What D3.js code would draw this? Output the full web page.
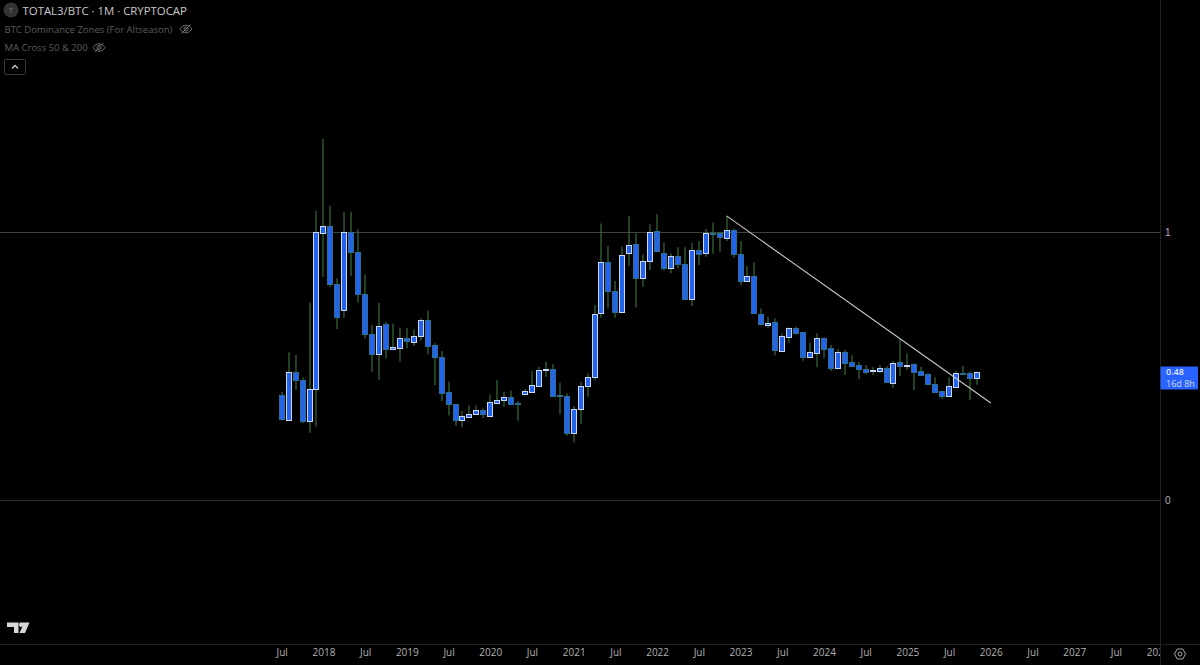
<!DOCTYPE html>
<html>
<head>
<meta charset="utf-8">
<script src="https://cdn.jsdelivr.net/npm/d3@7"></script>
<style>
html,body{margin:0;padding:0;background:#000;overflow:hidden}
svg{display:block;font-family:"Open Sans",Roboto,sans-serif}
</style>
</head>
<body>
<svg id="chart" width="1200" height="665"></svg>
<script>
// Monthly candles, Jul 2017 .. Nov 2025
const opens=[.392,.299,.476,.448,.296,.413,.997,1.023,.805,.708,.999,.925,.769,.619,.545,.657,.565,.567,.603,.591,.611,.670,.577,.532,.402,.357,.299,.310,.321,.335,.315,.363,.372,.383,.361,.395,.404,.426,.486,.488,.391,.388,.250,.338,.426,.459,.697,.887,.779,.703,.923,.954,.828,.891,1.003,.923,.866,.912,.879,.750,.934,.923,.997,.995,.979,1.006,.917,.816,.835,.694,.653,.663,.557,.609,.643,.626,.532,.550,.606,.568,.493,.551,.514,.504,.488,.481,.481,.491,.438,.514,.501,.506,.480,.470,.433,.406,.389,.423,.475,.473,.456];
const highs=[.404,.551,.541,.458,.736,1.079,1.347,1.098,.827,1.076,1.076,1.010,.842,.653,.736,.665,.659,.643,.641,.637,.678,.706,.585,.556,.441,.357,.332,.354,.354,.341,.394,.448,.404,.409,.369,.414,.481,.497,.515,.507,.438,.397,.351,.441,.473,.728,1.032,.948,.817,.945,1.060,.995,.917,1.029,1.066,.962,.920,.943,.943,.960,.966,1.011,1.035,1.001,1.060,1.014,.966,.873,.887,.715,.684,.678,.622,.644,.647,.628,.587,.622,.607,.578,.563,.560,.540,.515,.504,.496,.504,.500,.520,.600,.547,.510,.497,.473,.458,.408,.458,.482,.500,.479,.479];
const lows=[.296,.299,.410,.286,.251,.274,.833,.796,.638,.680,.836,.736,.603,.479,.448,.527,.560,.516,.566,.575,.594,.544,.429,.369,.315,.277,.271,.308,.318,.306,.309,.363,.348,.359,.296,.394,.404,.426,.460,.388,.320,.240,.215,.284,.385,.448,.680,.715,.680,.700,.873,.718,.796,.858,.926,.856,.846,.864,.746,.724,.877,.908,.920,.926,.966,.904,.800,.815,.697,.650,.643,.540,.557,.587,.618,.520,.532,.495,.529,.481,.488,.466,.495,.451,.470,.466,.473,.439,.417,.464,.485,.410,.466,.433,.402,.377,.389,.417,.469,.373,.430];
const closes=[.301,.476,.448,.296,.413,1.000,1.023,.805,.682,.999,.926,.769,.619,.545,.648,.565,.572,.606,.593,.611,.670,.576,.532,.400,.359,.300,.313,.322,.335,.320,.365,.374,.383,.359,.357,.406,.428,.485,.489,.389,.387,.251,.338,.424,.459,.694,.887,.779,.703,.914,.951,.828,.892,.999,.929,.864,.912,.879,.749,.934,.919,.995,.994,.980,1.006,.917,.817,.835,.697,.657,.660,.560,.611,.641,.624,.532,.551,.606,.565,.494,.551,.512,.501,.488,.478,.484,.491,.439,.510,.501,.504,.479,.468,.433,.404,.389,.424,.473,.473,.456,.476];
const tickMonths=[0,6,12,18,24,30,36,42,48,54,60,66,72,78,84,90,96,102,108,114,120,126];
const tickLabels=["Jul","2018","Jul","2019","Jul","2020","Jul","2021","Jul","2022","Jul","2023","Jul","2024","Jul","2025","Jul","2026","Jul","2027","Jul","2028"];
const priceTicks=[0,1];
const trendMonths=[64,102];
const trendValues=[1.06,.362];
const legendRows=["BTC Dominance Zones (For Altseason)","MA Cross 50 & 200"];
const titleText="TOTAL3/BTC · 1M · CRYPTOCAP";
const lastLabel="0.48";
const countdownLabel="16d 8h";

const W=1200,H=665,plotR=1160,plotB=644;
const x=d3.scaleLinear().domain([0,100]).range([281.7,976.9]);
const y=d3.scaleLinear().domain([0,1]).range([500,232]);
const svg=d3.select("#chart");
svg.append("defs").append("clipPath").attr("id","plot").append("rect").attr("width",plotR).attr("height",plotB);
svg.append("defs").append("clipPath").attr("id","timeclip").append("rect").attr("width",plotR).attr("height",H);
svg.append("rect").attr("width",W).attr("height",H).attr("fill","#000");

// grid lines
const plot=svg.append("g").attr("clip-path","url(#plot)");
plot.selectAll("line.grid").data(priceTicks).join("line")
 .attr("x1",0).attr("x2",plotR).attr("y1",d=>Math.round(y(d))+.5).attr("y2",d=>Math.round(y(d))+.5)
 .attr("stroke",d=>d===1?"#364536":"#303030").attr("stroke-width",1);

// candles
const idx=d3.range(opens.length);
const px=i=>Math.round(x(i));
const crisp=v=>Math.round(v)+.5;
plot.selectAll("line.wick").data(idx).join("line").attr("class","wick")
 .attr("x1",i=>px(i)).attr("x2",i=>px(i))
 .attr("y1",i=>y(highs[i])).attr("y2",i=>y(lows[i]))
 .attr("stroke","#3a6b3a").attr("stroke-width",1.2);
plot.selectAll("rect.body").data(idx).join("rect").attr("class","body")
 .attr("x",i=>px(i)-2.5)
 .attr("width",5)
 .attr("y",i=>crisp(y(Math.max(opens[i],closes[i]))))
 .attr("height",i=>Math.max(1,crisp(y(Math.min(opens[i],closes[i])))-crisp(y(Math.max(opens[i],closes[i])))))
 .attr("fill","#2563eb")
 .attr("stroke",i=>closes[i]>=opens[i]?"#c9d6f5":"#2a6f90")
 .attr("stroke-width",1);

// trend line
const trend=d3.line().x((d,i)=>x(trendMonths[i])).y(d=>y(d));
plot.append("path").attr("d",trend(trendValues)).attr("fill","none").attr("stroke","#c9c9c9").attr("stroke-width",1.1);

// axes frames
svg.append("line").attr("x1",0).attr("x2",W).attr("y1",plotB+.5).attr("y2",plotB+.5).attr("stroke","#222");
svg.append("line").attr("x1",plotR+.5).attr("x2",plotR+.5).attr("y1",0).attr("y2",H).attr("stroke","#222");

// time axis
const xAxis=d3.axisBottom(x).tickValues(tickMonths).tickFormat((d,i)=>tickLabels[i]).tickSize(0).tickPadding(5);
const gx=svg.append("g").attr("clip-path","url(#timeclip)").append("g").attr("transform",`translate(0,${plotB})`).call(xAxis);
gx.select(".domain").remove();
gx.selectAll("text").attr("fill","#b0b0b0").attr("font-size",10).attr("font-family","'Open Sans',sans-serif");

// price axis
const yAxis=d3.axisRight(y).tickValues(priceTicks).tickFormat(d3.format("d")).tickSize(0).tickPadding(5);
const gy=svg.append("g").attr("transform",`translate(${plotR},0)`).call(yAxis);
gy.select(".domain").remove();
gy.selectAll("text").attr("fill","#b0b0b0").attr("font-size",10);

// last price label
const lastV=closes[closes.length-1];
const ly=y(lastV);
svg.append("rect").attr("x",1160.5).attr("y",ly-6).attr("width",37.5).attr("height",23).attr("rx",1).attr("fill","#2962ff");
svg.append("text").attr("x",1166).attr("y",ly+2.5).attr("fill","#e4eaff").attr("font-size",9).attr("font-weight",600).text(lastLabel);
svg.append("text").attr("x",1166).attr("y",ly+15).attr("fill","#d0dcff").attr("font-size",9).text(countdownLabel);

// header
svg.append("circle").attr("cx",11).attr("cy",10).attr("r",7.5).attr("fill","#333");
svg.append("text").attr("x",11).attr("y",13).attr("text-anchor","middle").attr("fill","#777").attr("font-size",8).text("T");
svg.append("text").attr("x",22.5).attr("y",14.5).attr("fill","#c8c8c8").attr("font-size",11.4).text(titleText);
const rows=svg.selectAll("g.row").data(legendRows).join("g").attr("class","row");
rows.append("text").attr("x",4.5).attr("y",(d,i)=>32.5+i*18.5).attr("fill","#5c5c5c").attr("font-size",9.5).text(d=>d);
const eyeX=[186,99];
rows.each(function(d,i){
  const g=d3.select(this).append("g").attr("transform",`translate(${eyeX[i]},${29+i*18.5})`).attr("fill","none").attr("stroke","#707070").attr("stroke-width",1);
  g.append("path").attr("d","M-6,0C-3,-5 3,-5 6,0C3,5 -3,5 -6,0Z");
  g.append("circle").attr("r",2);
  g.append("path").attr("d","M-4.5,4.5L4.5,-4.5");
});
svg.append("rect").attr("x",4.5).attr("y",59.5).attr("width",21).attr("height",15).attr("rx",1).attr("fill","#000").attr("stroke","#3a3a3a");
svg.append("path").attr("d","M12,68.5L15,65.5L18,68.5").attr("fill","none").attr("stroke","#c8c8c8").attr("stroke-width",1.3);

// TradingView logo
svg.append("path").attr("fill","#d8d8d8").attr("d","M7,622.5H18.5V633H14V627H7ZM20,622.5H29.5L25,633H19.5L22.5,626.5A2.3,2.3 0 0 1 20,622.5Z");

// settings icon
const s=svg.append("g").attr("transform","translate(1180,654)").attr("fill","none").attr("stroke","#a8a8a8").attr("stroke-width",1);
s.append("path").attr("d","M-5.5,0L-2.8,-5H2.8L5.5,0L2.8,5H-2.8Z");
s.append("circle").attr("r",2);
</script>
</body>
</html>
